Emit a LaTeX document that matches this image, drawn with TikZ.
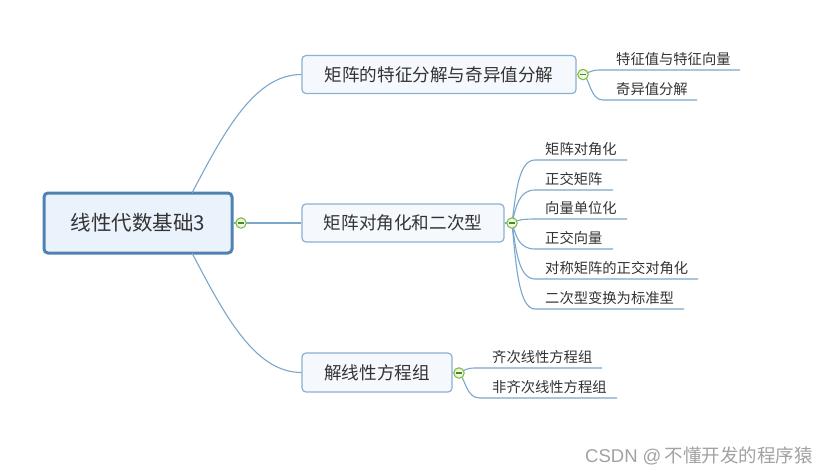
\documentclass[tikz,border=0pt]{standalone}
\usepackage{fontspec}
\setmainfont{Noto Sans CJK SC}
\newfontfamily\latf{Liberation Sans}
\usetikzlibrary{calc}
\definecolor{lineblue}{HTML}{7BA7CC}
\definecolor{rootborder}{HTML}{4F82B2}
\definecolor{rootfill}{HTML}{EAF2FB}
\definecolor{boxborder}{HTML}{8AB0D4}
\definecolor{boxfill}{HTML}{F5F9FD}
\definecolor{txt}{HTML}{333333}
\definecolor{btnring}{HTML}{7DBB3C}
\definecolor{btnfill}{HTML}{DDF0C8}
\definecolor{btnminus}{HTML}{4A8A22}
\definecolor{wm}{HTML}{A2A2A2}
\begin{document}
\begin{tikzpicture}[x=1pt,y=-1pt,
  rootbox/.style={draw=rootborder,line width=3pt,fill=rootfill,rounded corners=4pt,
    minimum width=188pt,minimum height=60pt,inner sep=0pt,text=txt,
    font=\fontsize{20.5}{24}\selectfont},
  childbox/.style={draw=boxborder,line width=1.2pt,fill=boxfill,rounded corners=4pt,
    inner sep=0pt,text=txt,font=\fontsize{17.6}{21}\selectfont},
  leaf/.style={anchor=west,inner sep=0pt,text=txt,font=\fontsize{14.3}{17}\selectfont},
  conn/.style={draw=lineblue,line width=1.1pt},
  btn/.style={circle,draw=btnring,line width=1pt,inner color=white,outer color=btnfill,
    minimum size=10.5pt,inner sep=0pt}
]
\useasboundingbox (0,0) rectangle (832,474);
\fill[white] (0,0) rectangle (832,474);

% main nodes
\node[rootbox] (root) at (138,223) {线性代数基础3};
\node[childbox,minimum width=274pt,minimum height=38pt] (c1) at (439,74.5) {矩阵的特征分解与奇异值分解};
\node[childbox,minimum width=202pt,minimum height=38pt] (c2) at (403,223) {矩阵对角化和二次型};
\node[childbox,minimum width=150pt,minimum height=39pt] (c3) at (377,372.5) {解线性方程组};

% buttons positions
\coordinate (b0) at (241,223);
\coordinate (b1) at (583,74.5);
\coordinate (b2) at (512,223);
\coordinate (b3) at (459,373);

% root connectors
\coordinate (r1) at (192,193);
\coordinate (r3) at (192,253);
\draw[conn] (r1) .. controls (225,130) and (255,74.5) .. (c1.west);
\draw[conn] (r3) .. controls (225,316) and (255,372.5) .. (c3.west);
\draw[conn] (root.east) -- (c2.west);
\draw[conn] (c1.east) -- (b1);
\draw[conn] (c2.east) -- (b2);
\draw[conn] (c3.east) -- (b3);

% child 1 leaves
\coordinate (s11) at (600,70);  \coordinate (e11) at (740,70);
\coordinate (s12) at (603,100); \coordinate (e12) at (697,100);
\node[leaf] (g11) at (616,59.5) {特征值与特征向量};
\node[leaf] (g12) at (616,89.5) {奇异值分解};
\draw[conn] (b1) .. controls (590,72) and (592,70) .. (s11) -- (e11);
\draw[conn] (b1) .. controls (590,78) and (590,100) .. (s12) -- (e12);

% child 2 leaves
\foreach \n/\y/\e/\t in {1/160/627/矩阵对角化,2/190/613/正交矩阵,3/219/627/向量单位化,
  4/249/613/正交向量,5/279/698/对称矩阵的正交对角化,6/309/684/二次型变换为标准型}{
  \coordinate (s2\n) at (535,\y);
  \coordinate (e2\n) at (\e,\y);
  \node[leaf] (g2\n) at (545,\y-10.5) {\t};
  \draw[conn] (b2) .. controls ($(b2)!0.5!(b2|-s2\n)+(4,0)$) and ($(s2\n)+(-16,0)$) .. (s2\n) -- (e2\n);
}

% child 3 leaves
\coordinate (s31) at (475,368); \coordinate (e31) at (602,368);
\coordinate (s32) at (480,398); \coordinate (e32) at (617,398);
\node[leaf] (g31) at (492,357.5) {齐次线性方程组};
\node[leaf] (g32) at (492,387.5) {非齐次线性方程组};
\draw[conn] (b3) .. controls (465,370) and (467,368) .. (s31) -- (e31);
\draw[conn] (b3) .. controls (466,380) and (466,398) .. (s32) -- (e32);

% buttons
\foreach \b in {b0,b1,b2,b3}{
  \node[btn] (\b n) at (\b) {};
  \draw[btnminus,line width=1.2pt] ($(\b)+(-3,0)$) -- ($(\b)+(3,0)$);
}

% watermark
\node[anchor=west,inner sep=0pt,text=wm,font=\fontsize{18.5}{22}\selectfont] (wmk) at (585,456)
  {{\latf CSDN @}\kern3pt 不懂开发的程序猿};
\end{tikzpicture}
\end{document}
